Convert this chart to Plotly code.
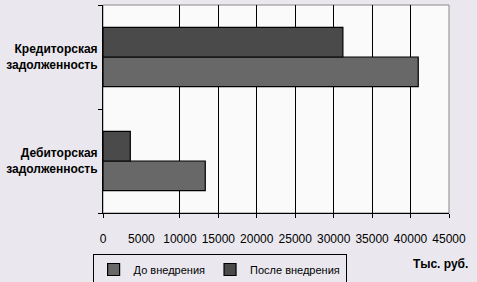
import plotly.graph_objects as go

categories = ["Дебиторская<br>задолженность", "Кредиторская<br>задолженность"]
before_vals = [13300, 41000]   # До внедрения
after_vals = [3550, 31200]     # После внедрения
series_names = ["До внедрения", "После внедрения"]
x_ticks = [0, 5000, 10000, 15000, 20000, 25000, 30000, 35000, 40000, 45000]
grid_ticks = [0, 10000, 15000, 20000, 25000, 30000, 35000, 40000, 45000]

FONT = "Liberation Sans"

fig = go.Figure()
fig.add_trace(go.Bar(y=categories, x=before_vals, orientation="h", name=series_names[0],
                     marker=dict(color="#686868", line=dict(color="black", width=1.2))))
fig.add_trace(go.Bar(y=categories, x=after_vals, orientation="h", name=series_names[1],
                     marker=dict(color="#4a4a4a", line=dict(color="black", width=1.2))))
# helper trace so the overlay grid axis is drawn
fig.add_trace(go.Scatter(x=[0], y=[categories[0]], xaxis="x2", mode="markers",
                         marker=dict(opacity=0), showlegend=False, hoverinfo="skip"))

fig.update_layout(
    width=477, height=282,
    margin=dict(l=103, r=28, t=5, b=69, autoexpand=False),
    paper_bgcolor="#eae8ee", plot_bgcolor="#fafafa",
    barmode="group", bargap=0.43, bargroupgap=0,
    font=dict(family=FONT, size=12, color="black"),
    xaxis=dict(range=[0, 45000], tickvals=x_ticks, ticktext=[str(v) for v in x_ticks],
               showgrid=False, zeroline=False, ticks="", showline=True, linecolor="black",
               linewidth=1, tickangle=0, tickfont=dict(family=FONT, size=12),
               ticklabelstandoff=15, automargin=False),
    xaxis2=dict(range=[0, 45000], overlaying="x", anchor="y", side="bottom",
                tickvals=grid_ticks, showticklabels=False, showgrid=True, gridcolor="black",
                gridwidth=1, ticks="outside", ticklen=4, tickcolor="black", zeroline=False,
                showline=False, automargin=False),
    yaxis=dict(type="category", tickson="boundaries", ticks="outside", ticklen=4,
               tickcolor="black", showline=True, linecolor="black", linewidth=1,
               showgrid=False, tickfont=dict(family=FONT, size=12, weight="bold"),
               ticklabelstandoff=2, automargin=False),
    legend=dict(orientation="h", x=-0.03, y=-0.197, xanchor="left", yanchor="top",
                bgcolor="#eae8ee", bordercolor="black", borderwidth=1,
                font=dict(family=FONT, size=11), traceorder="normal",
                itemwidth=30, tracegroupgap=0),
    shapes=[dict(type="rect", xref="paper", yref="paper", x0=0, x1=1, y0=0, y1=1,
                 line=dict(color="#888888", width=1), layer="below")],
    annotations=[dict(text="Тыс. руб.", xref="paper", yref="paper", x=0.974, y=-0.245,
                      xanchor="center", yanchor="middle",
                      showarrow=False, font=dict(family=FONT, size=12, weight="bold"))],
)
fig.write_html("out.html")
